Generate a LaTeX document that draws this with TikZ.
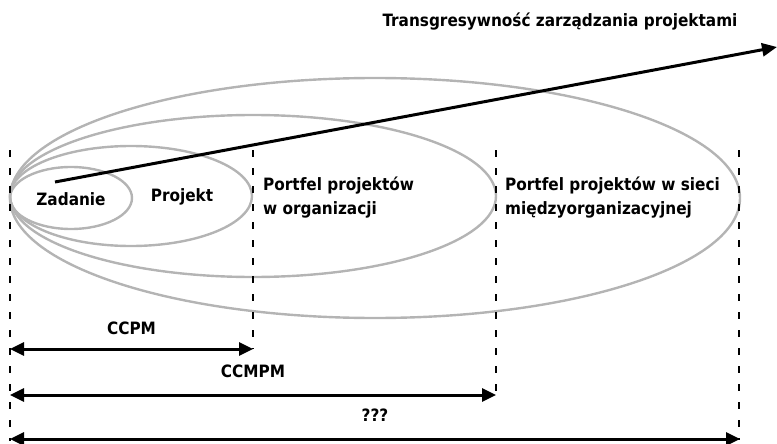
\documentclass[tikz,border=0pt]{standalone}
\usepackage{fontspec}
\setmainfont{DejaVu Sans Condensed}
\usetikzlibrary{arrows.meta}
\tikzset{
  ell/.style={draw={rgb,255:red,180;green,180;blue,180}, line width=2.4pt},
  vline/.style={draw=black, line width=2.6pt, dash pattern=on 7pt off 11pt},
  span/.style={draw=black, line width=3pt, {Triangle[length=14pt,width=13pt]}-{Triangle[length=14pt,width=13pt]}},
  lbl/.style={font=\fontsize{17}{24}\selectfont\bfseries, inner sep=0pt, text=black},
  mlbl/.style={lbl, align=left, anchor=west}
}
\begin{document}
\begin{tikzpicture}[x=1pt,y=-1pt]
\useasboundingbox (0,0) rectangle (777,444);
% ellipses
\draw[ell] (375,198) ellipse [x radius=365, y radius=120];
\draw[ell] (253,196) ellipse [x radius=243, y radius=81];
\draw[ell] (131,196) ellipse [x radius=121, y radius=50];
\draw[ell] (71,198) ellipse [x radius=61, y radius=31];
% dashed verticals
\coordinate (v1t) at (10,150);  \coordinate (v1b) at (10,441);
\coordinate (v2t) at (253,150); \coordinate (v2b) at (253,349);
\coordinate (v3t) at (496,150); \coordinate (v3b) at (496,395);
\coordinate (v4t) at (739,150); \coordinate (v4b) at (739,440);
\draw[vline] (v1t) -- (v1b);
\draw[vline] (v2t) -- (v2b);
\draw[vline] (v3t) -- (v3b);
\draw[vline] (v4t) -- (v4b);
% span arrows
\coordinate (a1l) at (10,349); \coordinate (a1r) at (253,349);
\coordinate (a2l) at (10,395); \coordinate (a2r) at (496,395);
\coordinate (a3l) at (10,439); \coordinate (a3r) at (740,439);
\draw[span] (a1l) -- (a1r);
\draw[span] (a2l) -- (a2r);
\draw[span] (a3l) -- (a3r);
\node[lbl] (ccpm) at (131.5,328) {CCPM};
\node[lbl] (ccmpm) at (253,371) {CCMPM};
\node[lbl] (qqq) at (375,415) {???};
% diagonal arrow
\coordinate (ds) at (55,182);
\coordinate (de) at (777,47);
\draw[line width=3pt, -{Triangle[length=15pt,width=13pt]}] (ds) -- (de);
\node[lbl] (title) at (560,22) {Transgresywność zarządzania projektami};
% labels
\node[lbl] (zad) at (71,199) {Zadanie};
\node[lbl] (proj) at (182,197) {Projekt};
\node[mlbl] (porg) at (263,198) {Portfel projektów\\w organizacji};
\node[mlbl] (psiec) at (505,198) {Portfel projektów w sieci\\międzyorganizacyjnej};
\end{tikzpicture}
\end{document}
